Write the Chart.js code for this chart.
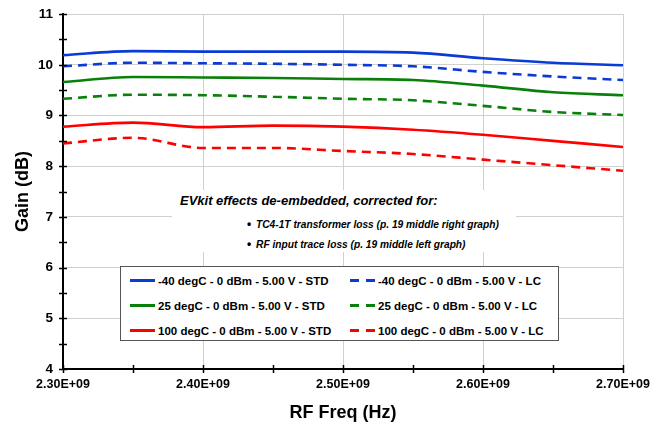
<!DOCTYPE html>
<html lang="en">
<head>
<meta charset="UTF-8">
<title>Gain vs RF Freq</title>
<script src="https://cdn.jsdelivr.net/npm/chart.js"></script>
<style>
  body { margin: 0; background: #fff; font-family: "Liberation Sans", Arial, sans-serif; }
  #wrap { position: relative; width: 665px; height: 425px; }
  #note {
    position: absolute; left: 172px; top: 190px; width: 344px; height: 62px;
    background: #fff; font-weight: bold; font-style: italic; color: #000;
  }
  #note .head { position: absolute; left: 8px; top: 3px; font-size: 13px; white-space: nowrap; }
  #note .item { position: absolute; left: 75px; font-size: 10.2px; white-space: nowrap; }
  #note .item b { font-style: normal; font-size: 12px; margin-right: 2px; }
  #legend {
    position: absolute; left: 120px; top: 266px; width: 437px; height: 73px;
    border: 1px solid #555; background: #fff; font-weight: bold; font-size: 11.5px;
  }
  .entry { position: absolute; height: 14px; line-height: 14px; white-space: nowrap; }
  .entry .s { display: inline-block; width: 25px; height: 0; border-top: 3px solid; vertical-align: middle; margin-right: 3px; position: relative; top: -1px; }
  .entry .d { display: inline-block; width: 25px; height: 3px; vertical-align: middle; margin-right: 3px; position: relative; top: -1px; }
</style>
</head>
<body>
<div id="wrap">
  <canvas id="chart" width="665" height="425"></canvas>
  <div id="note">
    <div class="head">EVkit effects de-embedded, corrected for:</div>
    <div class="item" style="top:27px"><b>&#8226;</b> TC4-1T transformer loss (p. 19 middle right graph)</div>
    <div class="item" style="top:47px"><b>&#8226;</b> RF input trace loss (p. 19 middle left graph)</div>
  </div>
  <div id="legend"></div>
</div>
<script>
// frequency points (Hz)
const freqs = [2.30e9, 2.35e9, 2.40e9, 2.45e9, 2.50e9, 2.55e9, 2.60e9, 2.65e9, 2.70e9];

// gain (dB)
const m40Std  = [10.19, 10.27, 10.26, 10.26, 10.26, 10.24, 10.13, 10.04, 9.99];
const m40Lc   = [9.97, 10.04, 10.03, 10.02, 10.00, 9.97, 9.86, 9.77, 9.70];
const p25Std  = [9.66, 9.76, 9.75, 9.74, 9.72, 9.70, 9.59, 9.46, 9.40];
const p25Lc   = [9.33, 9.41, 9.40, 9.37, 9.33, 9.30, 9.19, 9.07, 9.01];
const p100Std = [8.78, 8.86, 8.77, 8.80, 8.78, 8.72, 8.62, 8.50, 8.38];
const p100Lc  = [8.45, 8.56, 8.36, 8.36, 8.30, 8.24, 8.13, 8.02, 7.91];

const seriesNames = [
  '-40 degC - 0 dBm - 5.00 V - STD', '-40 degC - 0 dBm - 5.00 V - LC',
  '25 degC - 0 dBm - 5.00 V - STD', '25 degC - 0 dBm - 5.00 V - LC',
  '100 degC - 0 dBm - 5.00 V - STD', '100 degC - 0 dBm - 5.00 V - LC'
];
const seriesValues = [m40Std, m40Lc, p25Std, p25Lc, p100Std, p100Lc];
const seriesColors = ['#0a3bd6', '#0a3bd6', '#0a800a', '#0a800a', '#ff0000', '#ff0000'];
const seriesDashed = [false, true, false, true, false, true];

const FONT = '"Liberation Sans", Arial, sans-serif';

const datasets = seriesValues.map((vals, i) => ({
  label: seriesNames[i],
  data: vals.map((v, j) => ({ x: freqs[j], y: v })),
  borderColor: seriesColors[i],
  borderWidth: 2.6,
  borderDash: seriesDashed[i] ? [9, 6] : [],
  pointRadius: 0,
  cubicInterpolationMode: 'monotone',
  fill: false
}));

// tick marks that cross the axis lines
const crossTicks = {
  id: 'crossTicks',
  afterDraw(chart) {
    const c = chart.ctx, x = chart.scales.x, y = chart.scales.y;
    c.save();
    c.strokeStyle = '#000';
    c.lineWidth = 1.5;
    c.beginPath();
    y.ticks.forEach(t => {
      const py = Math.round(y.getPixelForValue(t.value)) + 0.5;
      c.moveTo(x.left - 4, py); c.lineTo(x.left + 4, py);
    });
    x.ticks.forEach(t => {
      const px = Math.round(x.getPixelForValue(t.value)) + 0.5;
      c.moveTo(px, y.bottom - 4); c.lineTo(px, y.bottom + 4);
    });
    c.stroke();
    c.restore();
  }
};

new Chart(document.getElementById('chart'), {
  type: 'line',
  data: { datasets },
  options: {
    responsive: false,
    animation: false,
    layout: { padding: { top: 8, right: 42, left: 0, bottom: 0 } },
    plugins: { legend: { display: false }, tooltip: { enabled: false } },
    scales: {
      x: {
        type: 'linear',
        min: 2.3e9, max: 2.7e9,
        afterFit(s) { s.height = 56; },
        border: { color: '#000', width: 2 },
        grid: {
          color: ctx => (Math.round(ctx.tick.value / 1e7) % 10 === 0 ? '#d0d0d0' : 'rgba(0,0,0,0)'),
          tickLength: 4, tickColor: 'rgba(0,0,0,0)'
        },
        ticks: {
          stepSize: 0.05e9, autoSkip: false, maxRotation: 0, padding: 4,
          color: '#000', font: { family: FONT, size: 12.5, weight: 'bold' },
          callback: v => (Math.round(v / 1e7) % 10 === 0 ? (v / 1e9).toFixed(2) + 'E+09' : '')
        },
        title: {
          display: true, text: 'RF Freq (Hz)', color: '#000',
          font: { family: FONT, size: 18, weight: 'bold' }, padding: { top: 0, bottom: 1 }
        }
      },
      y: {
        min: 4, max: 11,
        afterFit(s) { s.width = 63; },
        border: { color: '#000', width: 2 },
        grid: {
          color: ctx => (Number.isInteger(ctx.tick.value) ? '#d0d0d0' : 'rgba(0,0,0,0)'),
          tickLength: 4, tickColor: 'rgba(0,0,0,0)'
        },
        ticks: {
          stepSize: 0.5, autoSkip: false, padding: 6,
          color: '#000', font: { family: FONT, size: 13.5, weight: 'bold' },
          callback: v => (Number.isInteger(v) ? String(v) : '')
        },
        title: {
          display: true, text: 'Gain (dB)', color: '#000',
          font: { family: FONT, size: 18, weight: 'bold' }, padding: { top: 12, bottom: 0 }
        }
      }
    }
  },
  plugins: [crossTicks]
});

// legend box: two columns, STD on the left, LC on the right
const legend = document.getElementById('legend');
seriesNames.forEach((name, i) => {
  const col = i % 2, row = Math.floor(i / 2);
  const e = document.createElement('div');
  e.className = 'entry';
  e.style.left = (col ? 229 : 9) + 'px';
  e.style.top = (7 + row * 25) + 'px';
  const sw = document.createElement('span');
  if (seriesDashed[i]) {
    sw.className = 'd';
    sw.style.background = `linear-gradient(to right, ${seriesColors[i]} 0 9px, transparent 9px 16px, ${seriesColors[i]} 16px 25px)`;
  } else {
    sw.className = 's';
    sw.style.borderColor = seriesColors[i];
  }
  e.appendChild(sw);
  e.appendChild(document.createTextNode(name));
  legend.appendChild(e);
});
</script>
</body>
</html>
